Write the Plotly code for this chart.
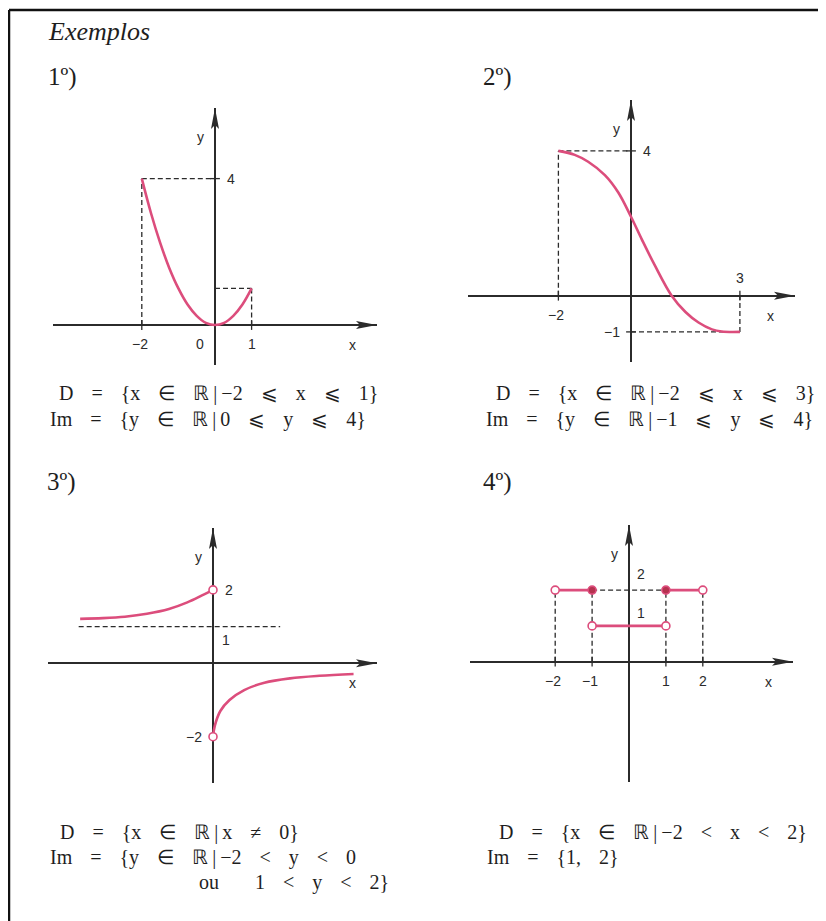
import plotly.graph_objects as go

W, H = 826, 921
OFF = 8  # margem padrao do <body> da pagina
FW, FH = W - OFF, H - OFF
PINK = "#dc4d7c"
INK = "#2b2b2b"
SERIF = "Liberation Serif"
SANS = "Liberation Sans"

# 1º) parabola de -2 a 1
x1 = [-2, -1.75, -1.5, -1.25, -1, -0.75, -0.5, -0.25, 0, 0.25, 0.5, 0.75, 1]
y1 = [4, 3.06, 2.25, 1.56, 1, 0.56, 0.25, 0.06, 0, 0.06, 0.25, 0.56, 1]

# 2º) curva decrescente de (-2, 4) a (3, -1)
x2 = [-2, -1.55, -1.18, -0.72, -0.35, 0, 0.3, 0.65, 1.12, 1.5, 1.86, 2.23, 2.5, 3]
y2 = [4, 3.89, 3.7, 3.33, 2.85, 2.18, 1.55, 0.85, 0, -0.45, -0.74, -0.93, -0.99, -1]

# 3º) dois ramos, x != 0
x3a = [-3.62, -3, -2.4, -1.8, -1.2, -0.7, -0.3, 0]
y3a = [1.21, 1.23, 1.27, 1.35, 1.48, 1.66, 1.85, 2]
x3b = [0, 0.05, 0.2, 0.45, 0.85, 1.4, 2.1, 2.9, 3.83]
y3b = [-2, -1.7, -1.3, -1.0, -0.73, -0.53, -0.41, -0.34, -0.29]
asym3_x = [-3.66, 1.83]
asym3_y = 1

# 4º) funcao em degraus
seg_x0 = [-2, -1, 1]
seg_x1 = [-1, 1, 2]
seg_y = [2, 1, 2]
left_closed = [False, False, True]
right_closed = [True, False, False]

# rotulos dos eixos
ticks = {
    1: dict(x=[(-2, "−2"), (0, "0"), (1, "1")], y=[(4, "4")]),
    2: dict(x=[(-2, "−2"), (3, "3")], y=[(4, "4"), (-1, "−1")]),
    3: dict(x=[], y=[(2, "2"), (1, "1"), (-2, "−2")]),
    4: dict(x=[(-2, "−2"), (-1, "−1"), (1, "1"), (2, "2")], y=[(2, "2"), (1, "1")]),
}

fig = go.Figure()
layout = {}
shapes = []
annots = []


def fx(px):
    return (px - OFF) / FW


def fy(py):
    return 1 - (py - OFF) / FH


def panel(i, L, R, T, B, ox, oy, ux, uy):
    sfx = "" if i == 1 else str(i)
    xr = [(L - ox) / ux, (R - ox) / ux]
    yr = [(oy - B) / uy, (oy - T) / uy]
    common = dict(showgrid=False, showticklabels=False, ticks="", showline=False,
                  zeroline=True, zerolinecolor=INK, zerolinewidth=1.5, fixedrange=True)
    layout["xaxis" + sfx] = dict(domain=[fx(L), fx(R)], range=xr, anchor="y" + sfx, **common)
    layout["yaxis" + sfx] = dict(domain=[fy(B), fy(T)], range=yr, anchor="x" + sfx, **common)
    shapes.append(dict(type="path", xref="x" + sfx, yref="y" + sfx, xsizemode="pixel",
                       ysizemode="pixel", xanchor=xr[1], yanchor=0,
                       path="M0,0 L-21,4 L-17,0 L-21,-4 Z", fillcolor=INK, line=dict(width=0)))
    shapes.append(dict(type="path", xref="x" + sfx, yref="y" + sfx, xsizemode="pixel",
                       ysizemode="pixel", xanchor=0, yanchor=yr[1],
                       path="M0,0 L4,-21 L0,-17 L-4,-21 Z", fillcolor=INK, line=dict(width=0)))
    return "x" + sfx, "y" + sfx


axes = {
    1: panel(1, 53, 377, 108, 365, 215, 325, 36.6, 36.6),
    2: panel(2, 468, 795, 100, 362, 631, 295.7, 36.3, 36.2),
    3: panel(3, 48, 377, 528, 783, 213, 663.3, 36.7, 36.7),
    4: panel(4, 470, 793, 525, 782, 629, 661.7, 36.9, 35.8),
}


def dashed(ax, xs, ys):
    fig.add_trace(go.Scatter(x=xs, y=ys, xaxis=ax[0], yaxis=ax[1], mode="lines",
                             line=dict(color=INK, width=1.3, dash="5px,3px"),
                             hoverinfo="skip", showlegend=False))


def curve(ax, xs, ys):
    fig.add_trace(go.Scatter(x=xs, y=ys, xaxis=ax[0], yaxis=ax[1], mode="lines",
                             line=dict(color=PINK, width=2.6, shape="spline", smoothing=1.0),
                             showlegend=False))


def dots(ax, xs, ys, closed):
    fig.add_trace(go.Scatter(x=xs, y=ys, xaxis=ax[0], yaxis=ax[1], mode="markers",
                             marker=dict(size=8, color="#b5324f" if closed else "white",
                                         line=dict(color=PINK, width=1.6)),
                             showlegend=False))


# tracinhos e rotulos dos ticks (antes das curvas, para ficarem por baixo)
tick_font = dict(family=SANS, size=14, color=INK)
for i, t in ticks.items():
    ax, ay = axes[i]
    tx = [v for v, _ in t["x"] if v != 0]
    ty = [v for v, _ in t["y"]] if i in (1, 2) else []
    if tx:
        fig.add_trace(go.Scatter(x=tx, y=[0] * len(tx), xaxis=ax, yaxis=ay, mode="markers",
                                 marker=dict(symbol="line-ns", size=7,
                                             line=dict(color=INK, width=1.3)),
                                 hoverinfo="skip", showlegend=False))
    if ty:
        fig.add_trace(go.Scatter(x=[0] * len(ty), y=ty, xaxis=ax, yaxis=ay, mode="markers",
                                 marker=dict(symbol="line-ew", size=7,
                                             line=dict(color=INK, width=1.3)),
                                 hoverinfo="skip", showlegend=False))
    for v, lab in t["x"]:
        ys = -19
        if i == 2 and v > 0:
            ys = 18
        xs = -2 if v < 0 else 0
        if v == 0:
            xs = -15
        annots.append(dict(x=v, y=0, xref=ax, yref=ay, text=lab, showarrow=False,
                           xshift=xs, yshift=ys, font=tick_font))
    for v, lab in t["y"]:
        xs, ys = 16, 0
        if v < 0:
            xs = -19
        if i == 3 and v == 1:
            xs, ys = 13, -13
        if i == 4:
            xs, ys = 12, 16 if v == 2 else 13
        annots.append(dict(x=0, y=v, xref=ax, yref=ay, text=lab, showarrow=False,
                           xshift=xs, yshift=ys, font=tick_font))
    # nomes dos eixos
    annots.append(dict(x=1, y=0, xref=ax + " domain", yref=ay, text="x", showarrow=False,
                       xshift=-19, yshift=-20, font=tick_font))
    annots.append(dict(x=0, y=1, xref=ax, yref=ay + " domain", text="y", showarrow=False,
                       xshift=-15, yshift=-19, font=tick_font))

# 1º)
a = axes[1]
dashed(a, [x1[0], x1[0], None, x1[0], 0, None, 0, x1[-1], None, x1[-1], x1[-1]],
       [0, y1[0], None, y1[0], y1[0], None, y1[-1], y1[-1], None, y1[-1], 0])
curve(a, x1, y1)

# 2º)
a = axes[2]
dashed(a, [x2[0], x2[0], None, x2[0], 0, None, 0, x2[-1], None, x2[-1], x2[-1]],
       [0, y2[0], None, y2[0], y2[0], None, y2[-1], y2[-1], None, y2[-1], 0])
curve(a, x2, y2)

# 3º)
a = axes[3]
dashed(a, asym3_x, [asym3_y, asym3_y])
curve(a, x3a, y3a)
curve(a, x3b, y3b)
dots(a, [x3a[-1], x3b[0]], [y3a[-1], y3b[0]], False)

# 4º)
a = axes[4]
dx, dy = [], []
for xv in sorted(set(seg_x0 + seg_x1)):
    dx += [xv, xv, None]
    dy += [0, max(seg_y), None]
dx += [seg_x1[0], seg_x0[2]]
dy += [seg_y[0], seg_y[2]]
dashed(a, dx, dy)
for x0, x1_, yv, lc, rc in zip(seg_x0, seg_x1, seg_y, left_closed, right_closed):
    fig.add_trace(go.Scatter(x=[x0, x1_], y=[yv, yv], xaxis=a[0], yaxis=a[1], mode="lines",
                             line=dict(color=PINK, width=2.6), showlegend=False))
    dots(a, [x0], [yv], lc)
    dots(a, [x1_], [yv], rc)


def txt(px, py, s, size=20):
    annots.append(dict(x=fx(px), y=fy(py), xref="paper", yref="paper", text=s,
                       showarrow=False, xanchor="left", yanchor="middle",
                       font=dict(family=SERIF, size=size, color="#1e1e1e")))


txt(46, 31, "<i>Exemplos</i>", 26)
txt(46, 77, "1º)", 25)
txt(481, 77, "2º)", 25)
txt(45, 482, "3º)", 25)
txt(481, 482, "4º)", 25)

g = "\u2002\u2009\u2009"  # espaco largo do original
t = "\u2009"
txt(57, 394, f"D{g}={g}{{x{g}∈{g}ℝ{t}|{t}−2{g}⩽{g}x{g}⩽{g}1}}")
txt(48, 419, f"Im{g}={g}{{y{g}∈{g}ℝ{t}|{t}0{g}⩽{g}y{g}⩽{g}4}}")
txt(494, 394, f"D{g}={g}{{x{g}∈{g}ℝ{t}|{t}−2{g}⩽{g}x{g}⩽{g}3}}")
txt(484, 419, f"Im{g}={g}{{y{g}∈{g}ℝ{t}|{t}−1{g}⩽{g}y{g}⩽{g}4}}")
txt(58, 832, f"D{g}={g}{{x{g}∈{g}ℝ{t}|{t}x{g}≠{g}0}}")
txt(48, 857, f"Im{g}={g}{{y{g}∈{g}ℝ{t}|{t}−2{g}<{g}y{g}<{g}0")
txt(197, 882, f"ou{g}{g}1{g}<{g}y{g}<{g}2}}")
txt(497, 832, f"D{g}={g}{{x{g}∈{g}ℝ{t}|{t}−2{g}<{g}x{g}<{g}2}}")
txt(485, 857, f"Im{g}={g}{{1,{g}2}}")

# moldura da pagina
shapes.append(dict(type="line", xref="paper", yref="paper", x0=fx(9), x1=1, y0=fy(10),
                   y1=fy(10), line=dict(color="#111", width=2.5)))
shapes.append(dict(type="line", xref="paper", yref="paper", x0=fx(9), x1=fx(9), y0=0,
                   y1=fy(10), line=dict(color="#111", width=2.5)))

fig.update_layout(width=FW, height=FH, margin=dict(l=0, r=0, t=0, b=0),
                  paper_bgcolor="white", plot_bgcolor="rgba(0,0,0,0)",
                  shapes=shapes, annotations=annots, showlegend=False, **layout)
fig.write_html("out.html", config={"displayModeBar": False})
